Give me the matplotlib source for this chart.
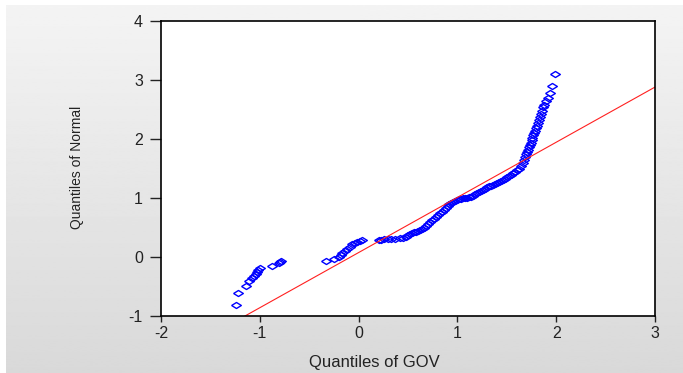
import numpy as np
import matplotlib.pyplot as plt

# quantile pairs (GOV vs normal)
gov_q = [-1.237, -1.22, -1.135, -1.108, -1.08, -1.06, -1.04, -1.03, -1.015, -1.0,
         -0.88, -0.81, -0.80, -0.785,
         -0.33, -0.25, -0.195, -0.18, -0.164, -0.14, -0.12, -0.09, -0.062, -0.04, -0.018, 0.01, 0.035,
         0.21, 0.23, 0.26, 0.30, 0.33, 0.37, 0.42, 0.45, 0.48,
         0.50, 0.52, 0.54, 0.56, 0.58, 0.60, 0.62, 0.64, 0.66, 0.68, 0.70,
         0.72, 0.74, 0.76, 0.78, 0.80, 0.82, 0.84, 0.86, 0.88, 0.90, 0.92, 0.94, 0.96, 0.98, 1.00,
         1.02, 1.04, 1.06, 1.08, 1.10, 1.12, 1.14, 1.16, 1.18, 1.20,
         1.22, 1.24, 1.26, 1.28, 1.30, 1.32, 1.34, 1.36, 1.38, 1.40, 1.42, 1.44, 1.46, 1.48,
         1.50, 1.52, 1.54, 1.56, 1.58, 1.60, 1.62, 1.64,
         1.66, 1.67, 1.68, 1.69, 1.70, 1.71, 1.72, 1.73, 1.74, 1.75, 1.76, 1.77, 1.78, 1.79,
         1.80, 1.81, 1.82, 1.83, 1.84, 1.85, 1.86, 1.87, 1.88, 1.90, 1.92, 1.94, 1.96, 1.985]
normal_q = [-0.82, -0.61, -0.49, -0.40, -0.36, -0.32, -0.28, -0.25, -0.22, -0.19,
            -0.15, -0.11, -0.09, -0.07,
            -0.06, -0.04, 0.0, 0.03, 0.07, 0.10, 0.13, 0.17, 0.215, 0.24, 0.26, 0.27, 0.28,
            0.29, 0.29, 0.30, 0.30, 0.31, 0.31, 0.32, 0.32, 0.34,
            0.37, 0.39, 0.41, 0.42, 0.43, 0.44, 0.46, 0.47, 0.49, 0.52, 0.56,
            0.59, 0.62, 0.65, 0.68, 0.71, 0.74, 0.77, 0.80, 0.83, 0.86, 0.89, 0.91, 0.93, 0.95, 0.97,
            0.98, 0.99, 1.0, 1.0, 1.0, 1.01, 1.02, 1.04, 1.06, 1.08,
            1.10, 1.12, 1.14, 1.16, 1.18, 1.20, 1.21, 1.22, 1.24, 1.25, 1.27, 1.29, 1.31, 1.33,
            1.35, 1.37, 1.39, 1.42, 1.44, 1.47, 1.50, 1.54,
            1.59, 1.64, 1.70, 1.74, 1.78, 1.82, 1.86, 1.90, 1.94, 1.98, 2.02, 2.06, 2.10, 2.14,
            2.18, 2.22, 2.27, 2.32, 2.37, 2.42, 2.48, 2.54, 2.58, 2.64, 2.70, 2.78, 2.89, 3.10]

# reference line end points
ref_x = [-1.15, 3.0]
ref_y = [-1.0, 2.88]

x_ticks = [-2, -1, 0, 1, 2, 3]
y_ticks = [-1, 0, 1, 2, 3, 4]

fig = plt.figure(figsize=(6.83, 3.73), dpi=100)
fig.patch.set_facecolor('white')

# grey gradient panel behind everything
bg = fig.add_axes([6/683, 0, 1 - 6/683, 1 - 5/373], zorder=-10)
grad = np.linspace(0.955, 0.85, 256).reshape(-1, 1)
bg.imshow(grad, aspect='auto', cmap='gray', vmin=0, vmax=1, extent=[0, 1, 0, 1])
bg.axis('off')

ax = fig.add_axes([161/683, 1 - 316/373, (655 - 161)/683, (316 - 21)/373])
ax.set_facecolor('white')

diamond = [(-1, 0), (0, 0.62), (1, 0), (0, -0.62), (-1, 0)]
ax.plot(gov_q, normal_q, linestyle='none', marker=diamond, markersize=7,
        markerfacecolor='none', markeredgecolor='#0000ff', markeredgewidth=1.0)
ax.plot(ref_x, ref_y, color='#ff2020', linewidth=0.8)

ax.set_xlim(-2, 3)
ax.set_ylim(-1, 4)
ax.set_xticks(x_ticks)
ax.set_yticks(y_ticks)
ax.set_xticklabels([str(v) for v in x_ticks])
ax.set_yticklabels([str(v) for v in y_ticks])

for s in ax.spines.values():
    s.set_linewidth(1.2)
    s.set_color('black')

ax.tick_params(axis='x', direction='out', length=4, width=1, pad=3,
               labelsize=11.5, colors='#222222')
ax.tick_params(axis='y', direction='out', length=8, width=1, pad=5,
               labelsize=11.5, colors='#222222')
for lbl in ax.get_xticklabels() + ax.get_yticklabels():
    lbl.set_fontfamily('Liberation Sans')

fig.text(374/683, 1 - 363/373, 'Quantiles of GOV', ha='center', va='center',
         fontsize=12, family='Liberation Sans', color='#222222')
fig.text(77/683, 1 - 167/373, 'Quantiles of Normal', ha='center', va='center',
         rotation=90, fontsize=10, family='Liberation Sans', color='#222222')

fig.savefig('out.png', dpi=100)
